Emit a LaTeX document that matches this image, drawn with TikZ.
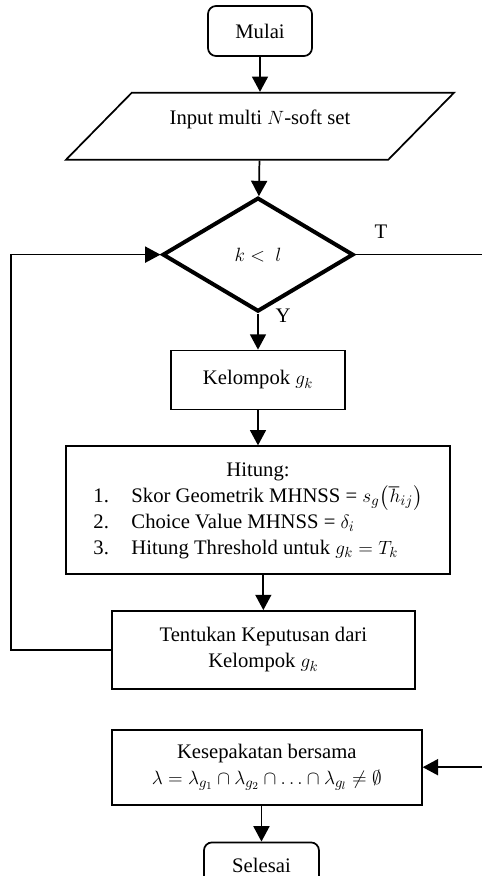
\documentclass[tikz,border=0pt]{standalone}
\usepackage{amsmath,amssymb}
\usepackage{fontspec}
\setmainfont{Liberation Serif}
\usetikzlibrary{positioning,shapes.geometric,arrows.meta}

\tikzset{every node/.style = {font=\fontsize{15.5}{19.5}\selectfont, align=center},
         kotak/.style = {shape=rectangle, draw, line width=1.3pt, inner sep=2pt},
         terminal/.style = {kotak, rounded corners=6pt},
         masukan/.style = {trapezium, draw, line width=1.3pt,
                           trapezium left angle=41, trapezium right angle=139,
                           trapezium stretches=true,
                           text height=11pt, text depth=14pt},
         keputusan/.style = {diamond, draw, line width=3pt},
         panah/.style = {-{Triangle[length=11.5pt,width=12pt]}, line width=1.3pt},
         garis/.style = {line width=0.9pt},
         ket/.style = {inner sep=0pt}}

\begin{document}
\begin{tikzpicture}[x=0.75pt, y=-0.75pt, node distance=26.25pt]
  \useasboundingbox (0,0) rectangle (482,876);
  \coordinate (kiri) at (11,0);
  \coordinate (kanan) at (482,0);

  \node[terminal, minimum width=78pt, minimum height=37.5pt] (mulai) at (260,31) {Mulai};
  \node[masukan, minimum width=291.75pt, minimum height=50.25pt, below=of mulai] (input)
       {Input multi $N$-soft set};
  \node[keputusan, minimum width=143.25pt, minimum height=85.5pt, below=of input, xshift=-1.5pt] (cond)
       {$k <\ l$};
  \node[kotak, minimum width=130.5pt, minimum height=44.25pt, below=27pt of cond] (kelompok)
       {Kelompok $g_k$};
  \node[kotak, minimum width=288pt, minimum height=96pt, below=of kelompok] (hitung)
       {\begin{tabular}{@{}p{28.5pt}@{}l@{}}
          \multicolumn{2}{c}{Hitung:}\\
          1. & Skor Geometrik MHNSS = $s_g\big(\hbar_{ij}\big)$\\
          2. & Choice Value MHNSS = $\delta_i$\\
          3. & Hitung Threshold untuk $g_k = T_k$
        \end{tabular}};
  \node[kotak, minimum width=227.25pt, minimum height=58.5pt, below=of hitung, xshift=4pt] (tentukan)
       {Tentukan Keputusan dari\\ Kelompok $g_k$};
  \node[kotak, minimum width=232.5pt, minimum height=56.25pt, below=29.25pt of tentukan, xshift=2.6pt] (sepakat)
       {Kesepakatan bersama\\
        $\lambda = \lambda_{g_1} \cap \lambda_{g_2} \cap \ldots \cap \lambda_{g_l} \neq \emptyset$};
  \node[terminal, minimum width=86.25pt, minimum height=35.25pt, below=27pt of sepakat, xshift=-4pt] (selesai)
       {Selesai};

  % label cabang
  \node[ket] (lblT) at (381,232) {T};
  \node[ket] (lblY) at (283,316) {Y};

  \draw[panah] (mulai) -- (input);
  \draw[panah] (input) -- (cond);
  \draw[panah] (cond) -- (kelompok);
  \draw[panah] (kelompok) -- (hitung);
  \draw[panah] (hitung.south -| tentukan.north) -- (tentukan.north);
  \draw[panah] (tentukan.west) -| (kiri |- cond.west) -- (cond.west);
  \draw[garis] (cond.east) -- (cond.east -| kanan);
  \draw[panah] (kanan |- sepakat.east) -- (sepakat.east);
  \draw[panah] (sepakat.south -| selesai.north) -- (selesai.north);
\end{tikzpicture}
\end{document}
